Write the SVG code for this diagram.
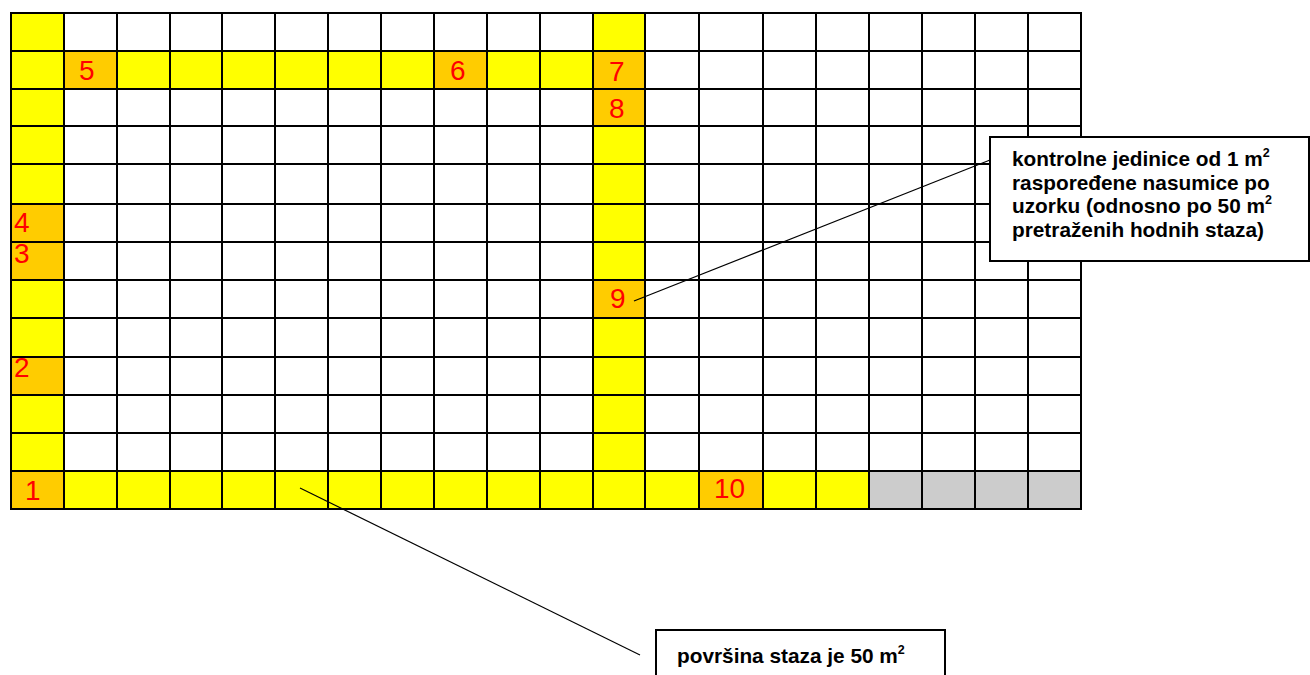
<svg xmlns="http://www.w3.org/2000/svg" width="1310" height="675" viewBox="0 0 1310 675">
<style>
.y{fill:#FFFF00}
.o{fill:#FFCC00}
.g{fill:#CCCCCC}
.grid{stroke:#000;stroke-width:2;fill:none}
.num{font-family:"Liberation Sans",Arial,sans-serif;font-size:28px;fill:#FF0000}
.lbl{font-family:"Liberation Sans",Arial,sans-serif;font-size:20.8px;font-weight:bold;fill:#000}
.box{fill:#fff;stroke:#000;stroke-width:2}
.conn{stroke:#000;stroke-width:1.2;fill:none}
</style>
<rect width="1310" height="675" fill="#fff"/>
<g id="grid">
<rect class="y" x="11" y="13" width="53" height="496"/>
<rect class="y" x="11" y="51" width="634" height="38"/>
<rect class="y" x="593" y="13" width="52" height="496"/>
<rect class="y" x="11" y="471" width="858" height="38"/>
<rect class="g" x="869" y="471" width="212" height="38"/>
<rect class="o" x="64" y="51" width="53" height="38"/>
<rect class="o" x="434" y="51" width="53" height="38"/>
<rect class="o" x="593" y="51" width="52" height="38"/>
<rect class="o" x="593" y="89" width="52" height="37"/>
<rect class="o" x="593" y="280" width="52" height="38"/>
<rect class="o" x="11" y="204" width="53" height="38"/>
<rect class="o" x="11" y="242" width="53" height="38"/>
<rect class="o" x="11" y="357" width="53" height="38"/>
<rect class="o" x="11" y="471" width="53" height="38"/>
<rect class="o" x="699" y="471" width="64" height="38"/>
<path class="grid" d="M11 12v498M64 12v498M117 12v498M170 12v498M222 12v498M275 12v498M328 12v498M381 12v498M434 12v498M487 12v498M540 12v498M593 12v498M645 12v498M699 12v498M763 12v498M816 12v498M869 12v498M922 12v498M975 12v498M1028 12v498M1081 12v498"/>
<path class="grid" d="M10 13h1072M10 51h1072M10 89h1072M10 126h1072M10 164h1072M10 204h1072M10 242h1072M10 280h1072M10 318h1072M10 357h1072M10 395h1072M10 433h1072M10 471h1072M10 509h1072"/>
</g>
<g id="numbers">
<text class="num" x="79" y="80">5</text>
<text class="num" x="450" y="80">6</text>
<text class="num" x="609" y="81">7</text>
<text class="num" x="609" y="118">8</text>
<text class="num" x="610" y="308">9</text>
<text class="num" x="14" y="232">4</text>
<text class="num" x="14" y="263">3</text>
<text class="num" x="14" y="377">2</text>
<text class="num" x="25" y="500">1</text>
<text class="num" x="714" y="498">10</text>
</g>
<g id="connectors">
<line class="conn" x1="634" y1="301" x2="990" y2="160"/>
<line class="conn" x1="300" y1="488" x2="640" y2="655"/>
</g>
<g id="note1">
<rect class="box" x="990" y="137" width="319" height="124"/>
<text class="lbl" x="1012" y="166">kontrolne jedinice od 1 m<tspan font-size="12.5" dy="-9.5">2</tspan></text>
<text class="lbl" x="1012" y="189.5">raspoređene nasumice po</text>
<text class="lbl" x="1012" y="213">uzorku (odnosno po 50 m<tspan font-size="12.5" dy="-9.5">2</tspan></text>
<text class="lbl" x="1012" y="236.5">pretraženih hodnih staza)</text>
</g>
<g id="note2">
<rect class="box" x="656" y="630" width="289" height="60"/>
<text class="lbl" x="677" y="663">površina staza je 50 m<tspan font-size="12.5" dy="-9.5">2</tspan></text>
</g>
</svg>
